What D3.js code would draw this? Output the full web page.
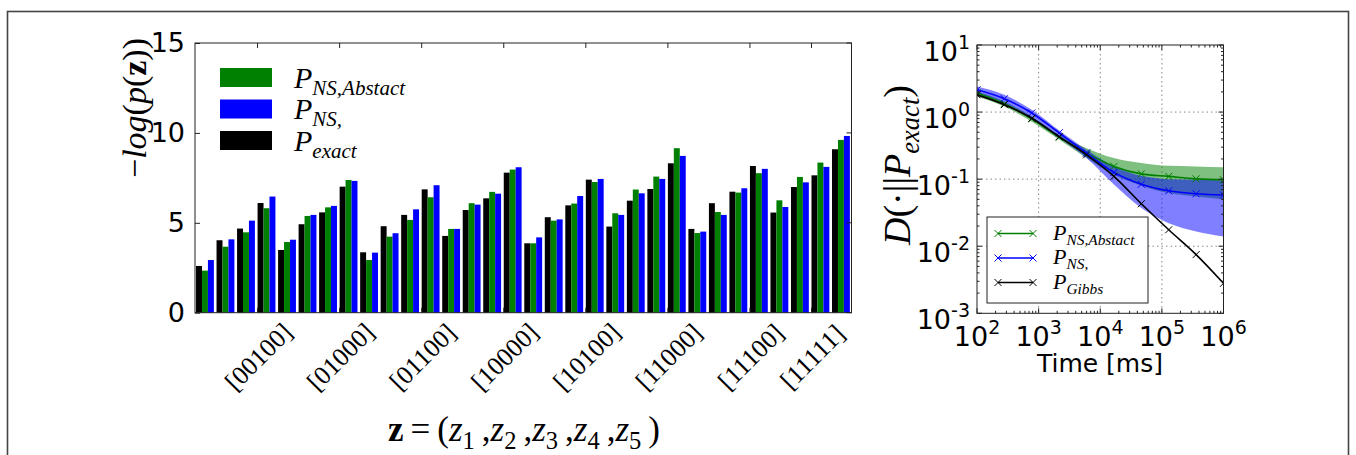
<!DOCTYPE html>
<html>
<head>
<meta charset="utf-8">
<script src="https://cdn.jsdelivr.net/npm/d3@7"></script>
<style>
  body { margin: 0; background: #fff; }
  text { fill: #000; }
</style>
</head>
<body>
<div id="chart"></div>
<script>
// all 5 bit states z = (z1..z5), and the ones that get a tick label
var states = d3.range(32).map(function(i) { return i.toString(2).padStart(5, "0"); });
var tickStates = ["00100", "01000", "01100", "10000", "10100", "11000", "11100", "11111"];

// -log p(z) for each state
var pExact     = [2.60, 4.03, 4.68, 6.10, 3.49, 4.92, 5.58, 7.01, 3.36, 4.81, 5.44, 6.86, 4.27, 5.71, 6.36, 7.79,
                  3.86, 5.31, 5.97, 7.40, 4.79, 6.23, 6.88, 8.31, 4.66, 6.09, 6.73, 8.16, 5.57, 6.99, 7.64, 9.09];
var pNSAbstact = [2.34, 3.67, 4.47, 5.81, 3.93, 5.38, 5.86, 7.38, 2.93, 4.23, 5.16, 6.42, 4.66, 6.09, 6.72, 7.96,
                  3.86, 5.12, 6.07, 7.27, 5.53, 6.85, 7.57, 9.15, 4.43, 5.60, 6.68, 7.76, 6.25, 7.55, 8.35, 9.61];
var pNS        = [2.93, 4.08, 5.12, 6.46, 4.06, 5.44, 5.94, 7.33, 3.34, 4.42, 5.75, 7.09, 4.66, 6.01, 6.62, 8.09,
                  4.19, 5.19, 6.49, 7.44, 5.44, 6.64, 7.44, 8.72, 4.51, 5.44, 6.92, 8.00, 5.88, 7.25, 8.11, 9.83];
var yTicksLeft = [0, 5, 10, 15];

// right panel: divergence to P_exact over time
var timeMs       = [100, 278, 774, 2154, 5995, 16681, 46416, 129155, 359381, 1000000];
var dGibbs       = [1.81, 1.29, 0.81, 0.43, 0.23, 0.11, 0.043, 0.0176, 0.0075, 0.0028];
var dNSAbstact   = [1.92, 1.33, 0.79, 0.42, 0.245, 0.155, 0.12, 0.11, 0.101, 0.098];
var dNSAbstactLo = [1.71, 1.21, 0.72, 0.39, 0.206, 0.116, 0.080, 0.062, 0.055, 0.050];
var dNSAbstactHi = [2.03, 1.44, 0.86, 0.46, 0.290, 0.206, 0.174, 0.158, 0.155, 0.150];
var dNS          = [2.15, 1.58, 0.97, 0.49, 0.245, 0.126, 0.084, 0.067, 0.0605, 0.058];
var dNSLo        = [1.75, 1.33, 0.81, 0.41, 0.206, 0.083, 0.037, 0.022, 0.0166, 0.014];
var dNSHi        = [2.41, 1.81, 1.08, 0.53, 0.274, 0.155, 0.112, 0.100, 0.098, 0.096];
var xDecades = [2, 3, 4, 5, 6];
var yDecades = [-3, -2, -1, 0, 1];

var GREEN = "#008000", BLUE = "#0000ff";
var SANS = "DejaVu Sans", SERIF = "Liberation Serif";

var svg = d3.select("#chart").append("svg")
  .attr("width", 1356).attr("height", 455);
svg.append("rect").attr("width", 1356).attr("height", 455).attr("fill", "#fff");

// outer frame of the figure
svg.append("rect")
  .attr("x", 7.5).attr("y", 11.5).attr("width", 1341).attr("height", 480)
  .attr("fill", "none").attr("stroke", "#444").attr("stroke-width", 1.6);

// small helper for mathtext-like labels
function mathText(sel, x, y, size, parts) {
  var t = sel.append("text").attr("x", x).attr("y", y)
    .attr("font-family", SERIF).attr("font-size", size);
  var shift = 0;
  parts.forEach(function(p) {
    var s = t.append("tspan").text(p.t);
    var target = p.sub ? size * 0.24 : 0;
    if (target !== shift) { s.attr("dy", target - shift); shift = target; }
    if (p.sub) s.attr("font-size", size * 0.7);
    if (p.it) s.attr("font-style", "italic");
    if (p.b) s.attr("font-weight", "bold");
  });
  return t;
}

// ---------------- left panel: bars ----------------
var L = {x0: 195, x1: 851.5, y0: 43, y1: 312.7};
var xb = d3.scaleLinear().domain([0, 32]).range([L.x0, L.x1]);
var yb = d3.scaleLinear().domain([0, 15]).range([L.y1, L.y0]);
var barW = 0.29;

var barSeries = [
  {vals: pExact, color: "#000"},
  {vals: pNSAbstact, color: GREEN},
  {vals: pNS, color: BLUE}
];

var left = svg.append("g");
barSeries.forEach(function(s, j) {
  left.append("g").selectAll("rect")
    .data(s.vals)
    .join("rect")
      .attr("x", function(d, i) { return xb(i + 0.05 + j * barW); })
      .attr("width", xb(barW) - xb(0))
      .attr("y", function(d) { return yb(d); })
      .attr("height", function(d) { return yb(0) - yb(d); })
      .attr("fill", s.color);
});

left.append("rect")
  .attr("x", L.x0).attr("y", L.y0).attr("width", L.x1 - L.x0).attr("height", L.y1 - L.y0)
  .attr("fill", "none").attr("stroke", "#222").attr("stroke-width", 1);

// y axis (ticks inward on both sides)
var yAx = left.append("g").attr("transform", "translate(" + L.x0 + ",0)")
  .call(d3.axisLeft(yb).tickValues(yTicksLeft).tickSize(-5).tickPadding(10));
yAx.select(".domain").remove();
yAx.selectAll("text").attr("font-family", SANS).attr("font-size", 27);
yAx.selectAll("line").attr("stroke", "#222");
left.append("g").selectAll("line").data(yTicksLeft).join("line")
  .attr("x1", L.x1).attr("x2", L.x1 - 5)
  .attr("y1", function(d) { return yb(d); }).attr("y2", function(d) { return yb(d); })
  .attr("stroke", "#222");

// x ticks, top and bottom
var tickPos = tickStates.map(function(s) { return parseInt(s, 2) - 0.95; });
left.append("g").selectAll("line").data(tickPos).join("line")
  .attr("x1", function(d) { return xb(d); }).attr("x2", function(d) { return xb(d); })
  .attr("y1", L.y0).attr("y2", L.y0 + 5).attr("stroke", "#222");
left.append("g").selectAll("line").data(tickPos).join("line")
  .attr("x1", function(d) { return xb(d); }).attr("x2", function(d) { return xb(d); })
  .attr("y1", L.y1).attr("y2", L.y1 - 5).attr("stroke", "#222");
left.append("g").selectAll("text").data(tickStates).join("text")
  .attr("transform", function(d, i) { return "translate(" + (xb(tickPos[i]) + 1) + ",357) rotate(-45)"; })
  .attr("text-anchor", "middle").attr("dy", "0.33em")
  .attr("font-family", SERIF).attr("font-size", 26)
  .text(function(d) { return "[" + d + "]"; });

// axis titles
mathText(left, 0, 0, 34, [
  {t: "\u2212"}, {t: "log", it: true}, {t: "("}, {t: "p", it: true}, {t: "("}, {t: "z", b: true}, {t: "))"}
]).attr("text-anchor", "middle").attr("transform", "translate(146,108) rotate(-90)");
mathText(left, 524, 441, 35, [
  {t: "z", b: true}, {t: "\u2009=\u2009("},
  {t: "z", it: true}, {t: "1", sub: true}, {t: "\u2009,"},
  {t: "z", it: true}, {t: "2", sub: true}, {t: "\u2009,"},
  {t: "z", it: true}, {t: "3", sub: true}, {t: "\u2009,"},
  {t: "z", it: true}, {t: "4", sub: true}, {t: "\u2009,"},
  {t: "z", it: true}, {t: "5", sub: true}, {t: "\u2009)"}
]).attr("text-anchor", "middle");

// legend (no frame)
var legL = [
  {color: GREEN, sub: "NS,Abstact"},
  {color: BLUE, sub: "NS,"},
  {color: "#000", sub: "exact"}
];
legL.forEach(function(d, i) {
  var cy = 77.5 + i * 31.5;
  left.append("rect").attr("x", 220).attr("y", cy - 9.5).attr("width", 52).attr("height", 19)
    .attr("fill", d.color);
  mathText(left, 294, cy + 10, 30, [{t: "P", it: true}, {t: d.sub, it: true, sub: true}]);
});

// ---------------- right panel: divergence ----------------
var R = {x0: 977, x1: 1223.5, y0: 45, y1: 313.3};
var xr = d3.scaleLog().domain([1e2, 1e6]).range([R.x0, R.x1]);
var yr = d3.scaleLog().domain([1e-3, 1e1]).range([R.y1, R.y0]);
var right = svg.append("g");

// grid
right.append("g").selectAll("line").data(xDecades.slice(1, -1)).join("line")
  .attr("x1", function(d) { return xr(Math.pow(10, d)); }).attr("x2", function(d) { return xr(Math.pow(10, d)); })
  .attr("y1", R.y0).attr("y2", R.y1)
  .attr("stroke", "#888").attr("stroke-dasharray", "1.5,3");
right.append("g").selectAll("line").data(yDecades.slice(1, -1)).join("line")
  .attr("y1", function(d) { return yr(Math.pow(10, d)); }).attr("y2", function(d) { return yr(Math.pow(10, d)); })
  .attr("x1", R.x0).attr("x2", R.x1)
  .attr("stroke", "#888").attr("stroke-dasharray", "1.5,3");

var clip = right.append("clipPath").attr("id", "clipR");
clip.append("rect").attr("x", R.x0).attr("y", R.y0).attr("width", R.x1 - R.x0).attr("height", R.y1 - R.y0);
var plot = right.append("g").attr("clip-path", "url(#clipR)");

function band(lo, hi) {
  return d3.area()
    .x(function(d, i) { return xr(timeMs[i]); })
    .y0(function(d, i) { return yr(lo[i]); })
    .y1(function(d, i) { return yr(hi[i]); })
    .curve(d3.curveMonotoneX)(timeMs);
}
plot.append("path").attr("d", band(dNSAbstactLo, dNSAbstactHi)).attr("fill", GREEN).attr("fill-opacity", 0.5);
plot.append("path").attr("d", band(dNSLo, dNSHi)).attr("fill", BLUE).attr("fill-opacity", 0.5);

var lineSeries = [
  {vals: dNSAbstact, color: GREEN, sub: "NS,Abstact"},
  {vals: dNS, color: BLUE, sub: "NS,"},
  {vals: dGibbs, color: "#000", sub: "Gibbs"}
];
var line = d3.line()
  .x(function(d) { return xr(d.t); })
  .y(function(d) { return yr(d.v); })
  .curve(d3.curveMonotoneX);

function cross(g, x, y, color) {
  var r = 3.5;
  g.append("path")
    .attr("d", "M" + (x - r) + "," + (y - r) + "L" + (x + r) + "," + (y + r) +
               "M" + (x - r) + "," + (y + r) + "L" + (x + r) + "," + (y - r))
    .attr("stroke", color).attr("stroke-width", 1).attr("fill", "none");
}

lineSeries.forEach(function(s) {
  var pts = timeMs.map(function(t, i) { return {t: t, v: s.vals[i]}; });
  plot.append("path").attr("d", line(pts))
    .attr("fill", "none").attr("stroke", s.color).attr("stroke-width", 1.6);
  pts.forEach(function(p) { cross(plot, xr(p.t), yr(p.v), s.color); });
});

right.append("rect")
  .attr("x", R.x0).attr("y", R.y0).attr("width", R.x1 - R.x0).attr("height", R.y1 - R.y0)
  .attr("fill", "none").attr("stroke", "#222").attr("stroke-width", 1);

// major and minor ticks on all four sides
function logTicks(decs) {
  var out = [];
  decs.forEach(function(d, i) {
    out.push({v: Math.pow(10, d), major: true});
    if (i < decs.length - 1) {
      for (var k = 2; k < 10; k++) out.push({v: k * Math.pow(10, d), major: false});
    }
  });
  return out;
}
var tx = logTicks(xDecades), ty = logTicks(yDecades);
var tg = right.append("g").attr("stroke", "#222");
tx.forEach(function(t) {
  var x = xr(t.v), len = t.major ? 5 : 2.5;
  tg.append("line").attr("x1", x).attr("x2", x).attr("y1", R.y1).attr("y2", R.y1 - len);
  tg.append("line").attr("x1", x).attr("x2", x).attr("y1", R.y0).attr("y2", R.y0 + len);
});
ty.forEach(function(t) {
  var y = yr(t.v), len = t.major ? 5 : 2.5;
  tg.append("line").attr("y1", y).attr("y2", y).attr("x1", R.x0).attr("x2", R.x0 + len);
  tg.append("line").attr("y1", y).attr("y2", y).attr("x1", R.x1).attr("x2", R.x1 - len);
});

// tick labels 10^n
xDecades.forEach(function(d) {
  var t = right.append("text").attr("x", xr(Math.pow(10, d))).attr("y", 346)
    .attr("text-anchor", "middle").attr("font-family", SANS).attr("font-size", 27);
  t.append("tspan").text("10");
  t.append("tspan").attr("dy", -12).attr("font-size", 19).text(d);
});
yDecades.forEach(function(d) {
  var t = right.append("text").attr("x", 970).attr("y", yr(Math.pow(10, d)) + 15.5)
    .attr("text-anchor", "end").attr("font-family", SANS).attr("font-size", 27);
  t.append("tspan").text("10");
  t.append("tspan").attr("dy", -12).attr("font-size", 19).text(d < 0 ? "-" + (-d) : d);
});

right.append("text").attr("x", 1100).attr("y", 372).attr("text-anchor", "middle")
  .attr("font-family", SANS).attr("font-size", 25).text("Time [ms]");
mathText(right, 0, 0, 38, [
  {t: "D", it: true}, {t: "(\u00b7||"}, {t: "P", it: true}, {t: "exact", it: true, sub: true}, {t: ")"}
]).attr("text-anchor", "middle").attr("transform", "translate(910,165) rotate(-90)");

// legend
var leg = right.append("g");
leg.append("rect").attr("x", 987).attr("y", 217).attr("width", 161).attr("height", 86)
  .attr("fill", "#fff").attr("stroke", "#222").attr("stroke-width", 1);
lineSeries.forEach(function(s, i) {
  var y = 233.5 + i * 24.5;
  leg.append("line").attr("x1", 998).attr("x2", 1033).attr("y1", y).attr("y2", y)
    .attr("stroke", s.color).attr("stroke-width", 1.3);
  cross(leg, 998, y, s.color);
  cross(leg, 1033, y, s.color);
  mathText(leg, 1053, y + 6, 22, [{t: "P", it: true}, {t: s.sub, it: true, sub: true}]);
});
</script>
</body>
</html>
